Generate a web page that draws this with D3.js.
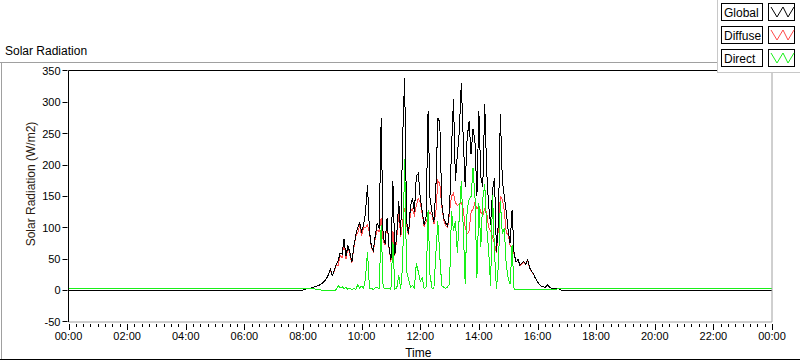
<!DOCTYPE html>
<html>
<head>
<meta charset="utf-8">
<script src="https://cdn.jsdelivr.net/npm/d3@7"></script>
<style>
  body { margin: 0; background: #fff; }
  svg { display: block; font-family: "Liberation Sans", Arial, sans-serif; }
</style>
</head>
<body>
<div id="chart"></div>
<script>
/**
 * CONSTANTS AND GLOBALS
 * */
const width = 800,
  height = 361,
  plot = { left: 68.5, right: 772, top: 70.5, bottom: 321.5 };

/**
 * DATA
 * waveform style: first sample at t0 (minutes after midnight), one sample every dt minutes
 * */
const t0 = 480;
const dt = 4;
const dayLength = 1440;

const seriesNames = ["Global", "Diffuse", "Direct"];
const seriesColors = ["#000000", "#ff4a4a", "#18f018"];
const nightLevels = [0, 0, 2.5];

const globalValues = [
  1, 2, 3, 4, 4, 5, 6, 7, 8, 10,
  12, 15, 19, 25, 34, 24, 32, 42, 47, 60,
  58, 82, 55, 72, 60, 45, 70, 88, 100, 108,
  94, 104, 125, 168, 95, 70, 64, 88, 108, 98,
  275, 85, 75, 115, 70, 48, 174, 57, 90, 142,
  88, 243, 339, 110, 90, 135, 147, 125, 182, 187,
  147, 126, 105, 118, 286, 147, 126, 110, 163, 275,
  268, 140, 115, 108, 102, 130, 227, 305, 174, 217,
  254, 331, 243, 165, 243, 270, 217, 257, 238, 150,
  286, 180, 165, 297, 190, 135, 105, 160, 179, 62,
  110, 281, 175, 150, 126, 95, 75, 129, 60, 45,
  50, 40, 44, 46, 42, 49, 36, 31, 26, 19,
  14, 10, 7, 6, 5, 9, 6, 4, 4, 3,
  3, 3, 1, 0, 0
];

const diffuseValues = [
  1, 2, 3, 4, 4, 5, 6, 7, 8, 10,
  12, 15, 19, 25, 33, 24, 31, 41, 40, 56,
  52, 78, 50, 70, 56, 44, 67, 86, 92, 104,
  87, 101, 100, 105, 92, 68, 62, 84, 96, 94,
  115, 80, 72, 112, 68, 46, 95, 55, 85, 125,
  85, 110, 131, 105, 88, 125, 130, 120, 135, 147,
  140, 122, 102, 110, 120, 125, 120, 106, 125, 175,
  170, 135, 112, 104, 100, 125, 150, 155, 140, 135,
  138, 140, 130, 100, 90, 95, 125, 130, 140, 130,
  135, 125, 120, 130, 125, 100, 95, 85, 75, 60,
  100, 150, 145, 128, 92, 89, 72, 68, 58, 45,
  49, 40, 43, 45, 42, 47, 35, 30, 26, 19,
  14, 10, 7, 6, 5, 8, 6, 4, 4, 3,
  3, 3, 1, 0, 0
];

const directValues = [
  2.5, 2.5, 2.5, 2.5, 2.5, 2.5, 2.5, 2, 2, 1,
  0, 0, 0, 0, 0, 0, 0.5, 1, 8, 4,
  6, 3, 5, 2, 4, 1, 3, 2, 9, 4,
  7, 3, 20, 62, 4, 3, 2, 4, 5, 3,
  105, 5, 3, 4, 3, 2, 78, 2, 4, 25,
  3, 40, 209, 30, 19, 5, 8, 4, 43, 30,
  15, 20, 3, 6, 129, 25, 4, 4, 60, 110,
  55, 8, 5, 3, 6, 10, 126, 95, 110, 60,
  120, 174, 100, 10, 130, 145, 150, 195, 150, 20,
  140, 70, 147, 169, 100, 65, 8, 153, 60, 3,
  40, 142, 90, 100, 40, 20, 10, 73, 2, 1,
  1, 1, 1, 1, 1, 1, 1, 1, 1, 1,
  1, 1, 1, 1, 1, 1, 1, 1, 1, 1,
  2.5, 2.5, 2.5, 2.5, 2.5
];

const yTicks = [-50, 0, 50, 100, 150, 200, 250, 300, 350];
const xTickLabels = ["00:00", "02:00", "04:00", "06:00", "08:00", "10:00", "12:00",
  "14:00", "16:00", "18:00", "20:00", "22:00", "00:00"];

/**
 * BUILD SERIES
 * */
function toPoints(values, night) {
  const pts = [{ t: 0, v: night }, { t: t0 - dt, v: night }];
  values.forEach((v, i) => pts.push({ t: t0 + i * dt, v }));
  pts.push({ t: t0 + values.length * dt, v: night });
  pts.push({ t: dayLength, v: night });
  return pts;
}
const series = [globalValues, diffuseValues, directValues]
  .map((vals, i) => ({ name: seriesNames[i], color: seriesColors[i], points: toPoints(vals, nightLevels[i]) }));

/**
 * DRAW
 * */
const svg = d3.select("#chart").append("svg")
  .attr("width", width)
  .attr("height", height);

const x = d3.scaleLinear().domain([0, dayLength]).range([plot.left, plot.right]);
const y = d3.scaleLinear().domain([-50, 350]).range([321.9, 70.9]);

// outer frame
svg.append("line").attr("x1", 0).attr("x2", 717).attr("y1", 62.5).attr("y2", 62.5).attr("stroke", "#a0a0a0");
svg.append("line").attr("x1", 1.5).attr("x2", 1.5).attr("y1", 62).attr("y2", 360).attr("stroke", "#a0a0a0");
svg.append("line").attr("x1", 0).attr("x2", width).attr("y1", 359.5).attr("y2", 359.5).attr("stroke", "#000");

svg.append("text")
  .attr("x", 5).attr("y", 55)
  .attr("font-size", 12)
  .text("Solar Radiation");

// data lines, clipped to the plot
svg.append("clipPath").attr("id", "clip")
  .append("rect")
  .attr("x", plot.left).attr("y", plot.top)
  .attr("width", plot.right - plot.left).attr("height", plot.bottom - plot.top);

const line = d3.line().x(d => x(d.t)).y(d => y(d.v));
const drawOrder = [1, 0, 2]; // diffuse under global, direct on top
svg.append("g").attr("clip-path", "url(#clip)")
  .selectAll("path")
  .data(drawOrder.map(i => series[i]))
  .join("path")
  .attr("d", d => line(d.points))
  .attr("fill", "none")
  .attr("stroke", d => d.color)
  .attr("stroke-width", 1)
  .attr("shape-rendering", "crispEdges");

// plot border
svg.append("line").attr("x1", plot.right).attr("x2", plot.right).attr("y1", plot.top).attr("y2", plot.bottom + 0.5).attr("stroke", "#a0a0a0");
svg.append("line").attr("x1", plot.left).attr("x2", plot.right).attr("y1", plot.bottom + 0.5).attr("y2", plot.bottom + 0.5).attr("stroke", "#a0a0a0");
svg.append("line").attr("x1", plot.left).attr("x2", plot.right).attr("y1", plot.top).attr("y2", plot.top).attr("stroke", "#000");
svg.append("line").attr("x1", plot.left).attr("x2", plot.left).attr("y1", plot.top).attr("y2", plot.bottom + 0.5).attr("stroke", "#000");

// y axis
const yAxis = svg.append("g").attr("font-size", 11);
yAxis.selectAll("line").data(yTicks).join("line")
  .attr("x1", plot.left - 6).attr("x2", plot.left - 1)
  .attr("y1", d => Math.floor(y(d)) + 0.5).attr("y2", d => Math.floor(y(d)) + 0.5)
  .attr("stroke", "#000");
yAxis.selectAll("text").data(yTicks).join("text")
  .attr("x", plot.left - 8)
  .attr("y", d => y(d))
  .attr("dy", "0.36em")
  .attr("text-anchor", "end")
  .text(d => d);

// x axis
const minorTicks = d3.range(0, dayLength + 1, 15);
const majorTicks = d3.range(0, dayLength + 1, 120);
const xAxis = svg.append("g").attr("font-size", 11);
xAxis.selectAll("line.minor").data(minorTicks).join("line")
  .attr("class", "minor")
  .attr("x1", d => Math.round(x(d)) + 0.5).attr("x2", d => Math.round(x(d)) + 0.5)
  .attr("y1", 324).attr("y2", d => d % 120 === 0 ? 330 : 327)
  .attr("stroke", "#000");
xAxis.selectAll("text").data(majorTicks).join("text")
  .attr("x", d => x(d))
  .attr("y", 340)
  .attr("text-anchor", "middle")
  .text((d, i) => xTickLabels[i]);

svg.append("text")
  .attr("x", (plot.left + plot.right) / 2 - 2).attr("y", 357)
  .attr("text-anchor", "middle")
  .attr("font-size", 12)
  .text("Time");

svg.append("text")
  .attr("transform", "translate(35, 184) rotate(-90)")
  .attr("text-anchor", "middle")
  .attr("font-size", 12)
  .attr("fill", "#2a1a10")
  .text("Solar Radiation (W/m2)");

// legend
const legend = svg.append("g");
legend.append("rect").attr("x", 717).attr("y", 0).attr("width", 83).attr("height", 72).attr("fill", "#fff");
legend.append("line").attr("x1", 717.5).attr("x2", 717.5).attr("y1", 0).attr("y2", 72).attr("stroke", "#c8c8c8");
legend.append("line").attr("x1", 717).attr("x2", 800).attr("y1", 72.5).attr("y2", 72.5).attr("stroke", "#c8c8c8");

const rows = legend.selectAll("g.row").data(series).join("g")
  .attr("class", "row")
  .attr("transform", (d, i) => `translate(0, ${3 + i * 23})`);
rows.append("rect")
  .attr("x", 721.5).attr("y", 0.5).attr("width", 41).attr("height", 17)
  .attr("fill", "#fff").attr("stroke", "#000");
rows.append("text")
  .attr("x", 724).attr("y", 14)
  .attr("font-size", 12)
  .text(d => d.name);
rows.append("rect")
  .attr("x", 768.5).attr("y", 0.5).attr("width", 26).attr("height", 17)
  .attr("fill", "#fff").attr("stroke", "#000");
const glyph = d3.line();
rows.append("path")
  .attr("d", glyph([[771, 4], [777, 14], [783, 4], [788, 14], [794, 4]]))
  .attr("fill", "none")
  .attr("stroke", d => d.color);
</script>
</body>
</html>
